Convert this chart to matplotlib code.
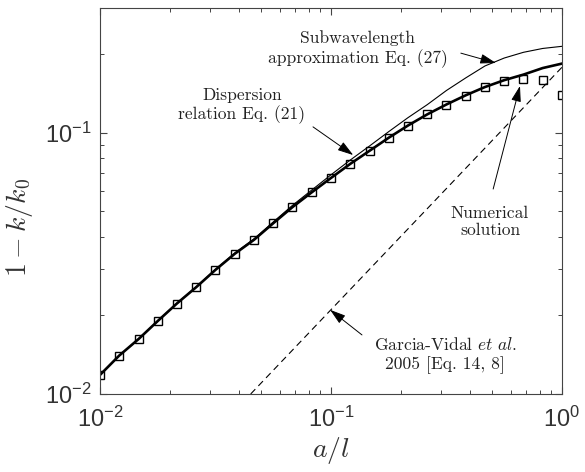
import matplotlib
matplotlib.use("Agg")
import matplotlib.pyplot as plt
from matplotlib.ticker import LogLocator, NullFormatter

plt.rcParams['mathtext.fontset'] = 'cm'

# a/l sample points
a_l = [0.01, 0.0121, 0.0147, 0.0178, 0.0215, 0.0261, 0.0316, 0.0383, 0.0464,
       0.0562, 0.0681, 0.0825, 0.1, 0.121, 0.147, 0.178, 0.215, 0.261, 0.316,
       0.383, 0.464, 0.562, 0.681, 0.825, 1.0]

# numerical solution (squares)
numerical = [0.01183, 0.01402, 0.01624, 0.01904, 0.02218, 0.02564, 0.02985,
             0.03439, 0.0389, 0.0450, 0.0519, 0.0591, 0.0671, 0.0759, 0.0853,
             0.0957, 0.1064, 0.1175, 0.1280, 0.1386, 0.1492, 0.1573, 0.1610,
             0.1592, 0.1394]

# dispersion relation Eq. (21) (thick line)
dispersion = [0.01183, 0.01402, 0.01624, 0.01904, 0.02218, 0.02564, 0.02985,
              0.03439, 0.0389, 0.0450, 0.0519, 0.0591, 0.0671, 0.0759, 0.0853,
              0.0957, 0.1064, 0.1175, 0.1282, 0.1390, 0.1495, 0.1588, 0.1668,
              0.1767, 0.1838]

# subwavelength approximation Eq. (27) (thin line)
subwave = [0.01183, 0.01403, 0.01626, 0.01907, 0.02223, 0.02572, 0.02997,
           0.0346, 0.0392, 0.0455, 0.0527, 0.0603, 0.0690, 0.0785, 0.0890,
           0.1010, 0.1140, 0.1280, 0.1450, 0.1620, 0.1800, 0.1930, 0.2030,
           0.2100, 0.2140]

# Garcia-Vidal et al. 2005 (dashed)
garcia_x = [0.0449, 1.0]
garcia_y = [0.01, 0.178]

fig = plt.figure(figsize=(5.85, 4.72), dpi=100)
ax = fig.add_axes([0.171, 0.1653, 0.7897, 0.8178])

ax.plot(a_l, subwave, color='k', lw=0.8)
ax.plot(a_l, dispersion, color='k', lw=1.9)
ax.plot(garcia_x, garcia_y, color='k', lw=0.8, ls=(0, (6, 4)))
ax.plot(a_l, numerical, ls='none', marker='s', ms=5.5, mfc='none', mec='k', mew=1.0)

ax.set_xscale('log')
ax.set_yscale('log')
ax.set_xlim(0.01, 1.0)
ax.set_ylim(0.01, 0.3)

ax.xaxis.set_major_locator(LogLocator(base=10, numticks=10))
ax.yaxis.set_major_locator(LogLocator(base=10, numticks=10))
ax.xaxis.set_minor_locator(LogLocator(base=10, subs=range(2, 10), numticks=20))
ax.yaxis.set_minor_locator(LogLocator(base=10, subs=range(2, 10), numticks=20))
ax.xaxis.set_minor_formatter(NullFormatter())
ax.yaxis.set_minor_formatter(NullFormatter())

spine_col = '#444444'
for s in ax.spines.values():
    s.set_color(spine_col)
    s.set_linewidth(0.8)
ax.tick_params(which='both', direction='in', top=True, right=True, colors=spine_col,
               labelcolor='#333333', labelsize=17, labelfontfamily='Liberation Sans')
ax.tick_params(which='major', length=5, width=0.8)
ax.tick_params(which='minor', length=3, width=0.7)
ax.tick_params(axis='x', pad=9)
ax.tick_params(axis='y', pad=6)

ax.set_xlabel(r'$a/l$', fontsize=20, color='#333333')
ax.set_ylabel(r'$1 - k/k_0$', fontsize=20, color='#333333')
ax.xaxis.set_label_coords(0.5, -0.105)
ax.yaxis.set_label_coords(-0.14, 0.43)

# annotations
tkw = dict(family='cmr10', fontsize=12.6, color='#222222', ha='center', va='center',
           transform=ax.transAxes, linespacing=1.2)
akw = dict(arrowstyle='-|>,head_length=0.8,head_width=0.25', color='k', lw=0.7,
           shrinkA=0, shrinkB=0, mutation_scale=12)

ax.text(0.558, 0.894, 'Subwavelength\napproximation Eq. (27)', **tkw)
ax.annotate('', xy=(0.857, 0.8575), xytext=(0.781, 0.883), xycoords='axes fraction',
            textcoords='axes fraction', arrowprops=akw)

ax.text(0.307, 0.746, 'Dispersion\nrelation Eq. (21)', **tkw)
ax.annotate('', xy=(0.548, 0.619), xytext=(0.461, 0.692), xycoords='axes fraction',
            textcoords='axes fraction', arrowprops=akw)

ax.text(0.844, 0.446, 'Numerical\nsolution', **tkw)
ax.annotate('', xy=(0.909, 0.798), xytext=(0.851, 0.531), xycoords='axes fraction',
            textcoords='axes fraction', arrowprops=akw)

ax.text(0.747, 0.101, 'Garcia-Vidal $\\mathit{et\\ al.}$\n2005 [Eq. 14, 8]', **tkw)
ax.annotate('', xy=(0.498, 0.218), xytext=(0.567, 0.153), xycoords='axes fraction',
            textcoords='axes fraction', arrowprops=akw)

fig.savefig('out.png', dpi=100)
